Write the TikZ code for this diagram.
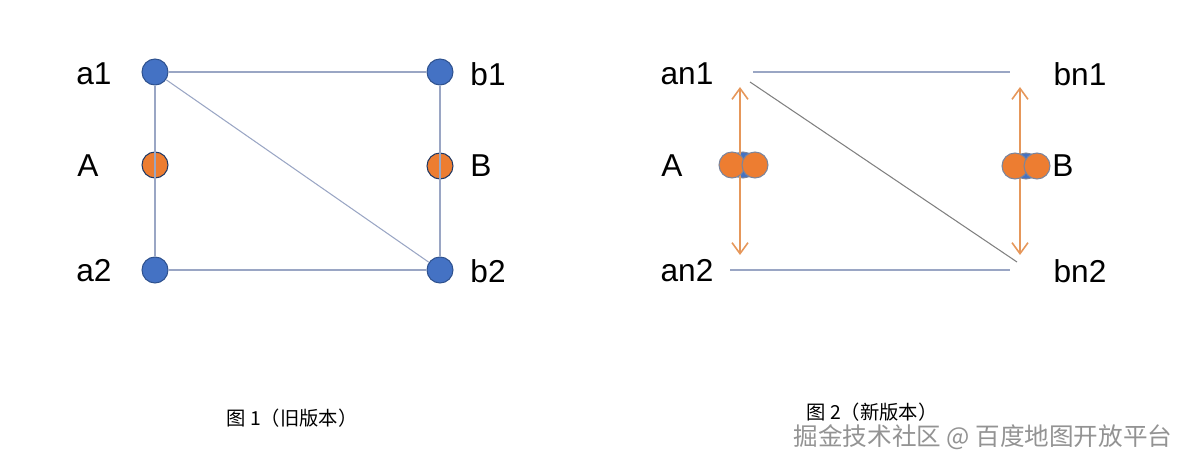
\documentclass[tikz,border=0pt]{standalone}
\usepackage{fontspec}
\setmainfont{Liberation Sans}
\newfontfamily\cjk{Noto Sans CJK SC}
\usetikzlibrary{arrows.meta}
\definecolor{dotblue}{HTML}{4472C4}
\definecolor{rimblue}{HTML}{2F528F}
\definecolor{dotorange}{HTML}{ED7D31}
\definecolor{linkgray}{HTML}{9AA6C4}
\definecolor{arrorange}{HTML}{E6975A}
\tikzset{
  vtx/.style={circle, draw=rimblue, fill=dotblue, line width=0.6pt, minimum size=0.52cm, inner sep=0pt},
  mid/.style={circle, draw=#1, fill=dotorange, line width=0.6pt, minimum size=0.52cm, inner sep=0pt},
  lbl/.style={font=\fontsize{18}{18}\selectfont, inner sep=0pt},
  link/.style={linkgray, line width=0.6pt},
  move/.style={arrorange, line width=0.9pt, {Straight Barb[length=2.2mm, width=3.2mm]}-{Straight Barb[length=2.2mm, width=3.2mm]}},
  figcaption/.style={font=\cjk\fontsize{11}{11}\selectfont},
}
\begin{document}
\begin{tikzpicture}
\useasboundingbox (0,0) rectangle (23.84,9.3);
% figure 1: old version
\node[vtx] (a1) at (3.1,7.86) {};
\node[vtx] (b1) at (8.8,7.86) {};
\node[mid=rimblue!70!black] (A) at (3.1,6.0) {};
\node[mid=rimblue!70!black] (B) at (8.8,5.98) {};
\node[vtx] (a2) at (3.1,3.9) {};
\node[vtx] (b2) at (8.8,3.9) {};
\node[lbl] (la1) at (1.88,7.82) {a1};
\node[lbl] (lA) at (1.76,5.98) {A};
\node[lbl] (la2) at (1.88,3.88) {a2};
\node[lbl] (lb1) at (9.76,7.82) {b1};
\node[lbl] (lB) at (9.62,5.98) {B};
\node[lbl] (lb2) at (9.76,3.88) {b2};
\draw[link] (a1) -- (b1);
\draw[link] (a1) -- (a2);
\draw[link] (b1) -- (b2);
\draw[link] (a2) -- (b2);
\draw[link] (a1) -- (b2);
\node[figcaption] (cap1) at (5.84,0.94) {图 1（旧版本）};
% figure 2: new version
\node[lbl] (an1) at (13.74,7.82) {an1};
\node[lbl] (an2) at (13.74,3.88) {an2};
\node[lbl] (bn1) at (21.6,7.82) {bn1};
\node[lbl] (bn2) at (21.6,3.88) {bn2};
\node[lbl] (nA) at (13.44,5.98) {A};
\node[lbl] (nB) at (21.26,5.98) {B};
\coordinate (t1) at (15.06,7.86);
\coordinate (t2) at (20.2,7.86);
\coordinate (u1) at (14.6,3.9);
\coordinate (u2) at (20.2,3.9);
\coordinate (d1) at (15.0,7.66);
\coordinate (d2) at (20.34,4.06);
\coordinate (p1) at (14.8,7.56);
\coordinate (p2) at (14.8,4.2);
\coordinate (q1) at (20.4,7.56);
\coordinate (q2) at (20.4,4.2);
\draw[link] (t1) -- (t2);
\draw[link] (u1) -- (u2);
\draw[link, gray] (d1) -- (d2);
\node[vtx, draw=linkgray!80!black] (na) at (14.86,6.0) {};
\node[vtx, draw=linkgray!80!black] (nb) at (20.52,5.98) {};
\draw[move] (p2) -- (p1);
\draw[move] (q2) -- (q1);
\node[mid=linkgray!80!black] (na1) at (14.64,6.0) {};
\node[mid=linkgray!80!black] (na2) at (15.1,6.0) {};
\node[mid=linkgray!80!black] (nb1) at (20.3,5.98) {};
\node[mid=linkgray!80!black] (nb2) at (20.74,5.98) {};
\node[figcaption] (cap2) at (17.44,1.06) {图 2（新版本）};
\node[font=\cjk\fontsize{14}{14}\selectfont, text=gray!85] (mark) at (19.66,0.56) {掘金技术社区 @ 百度地图开放平台};
\end{tikzpicture}
\end{document}
